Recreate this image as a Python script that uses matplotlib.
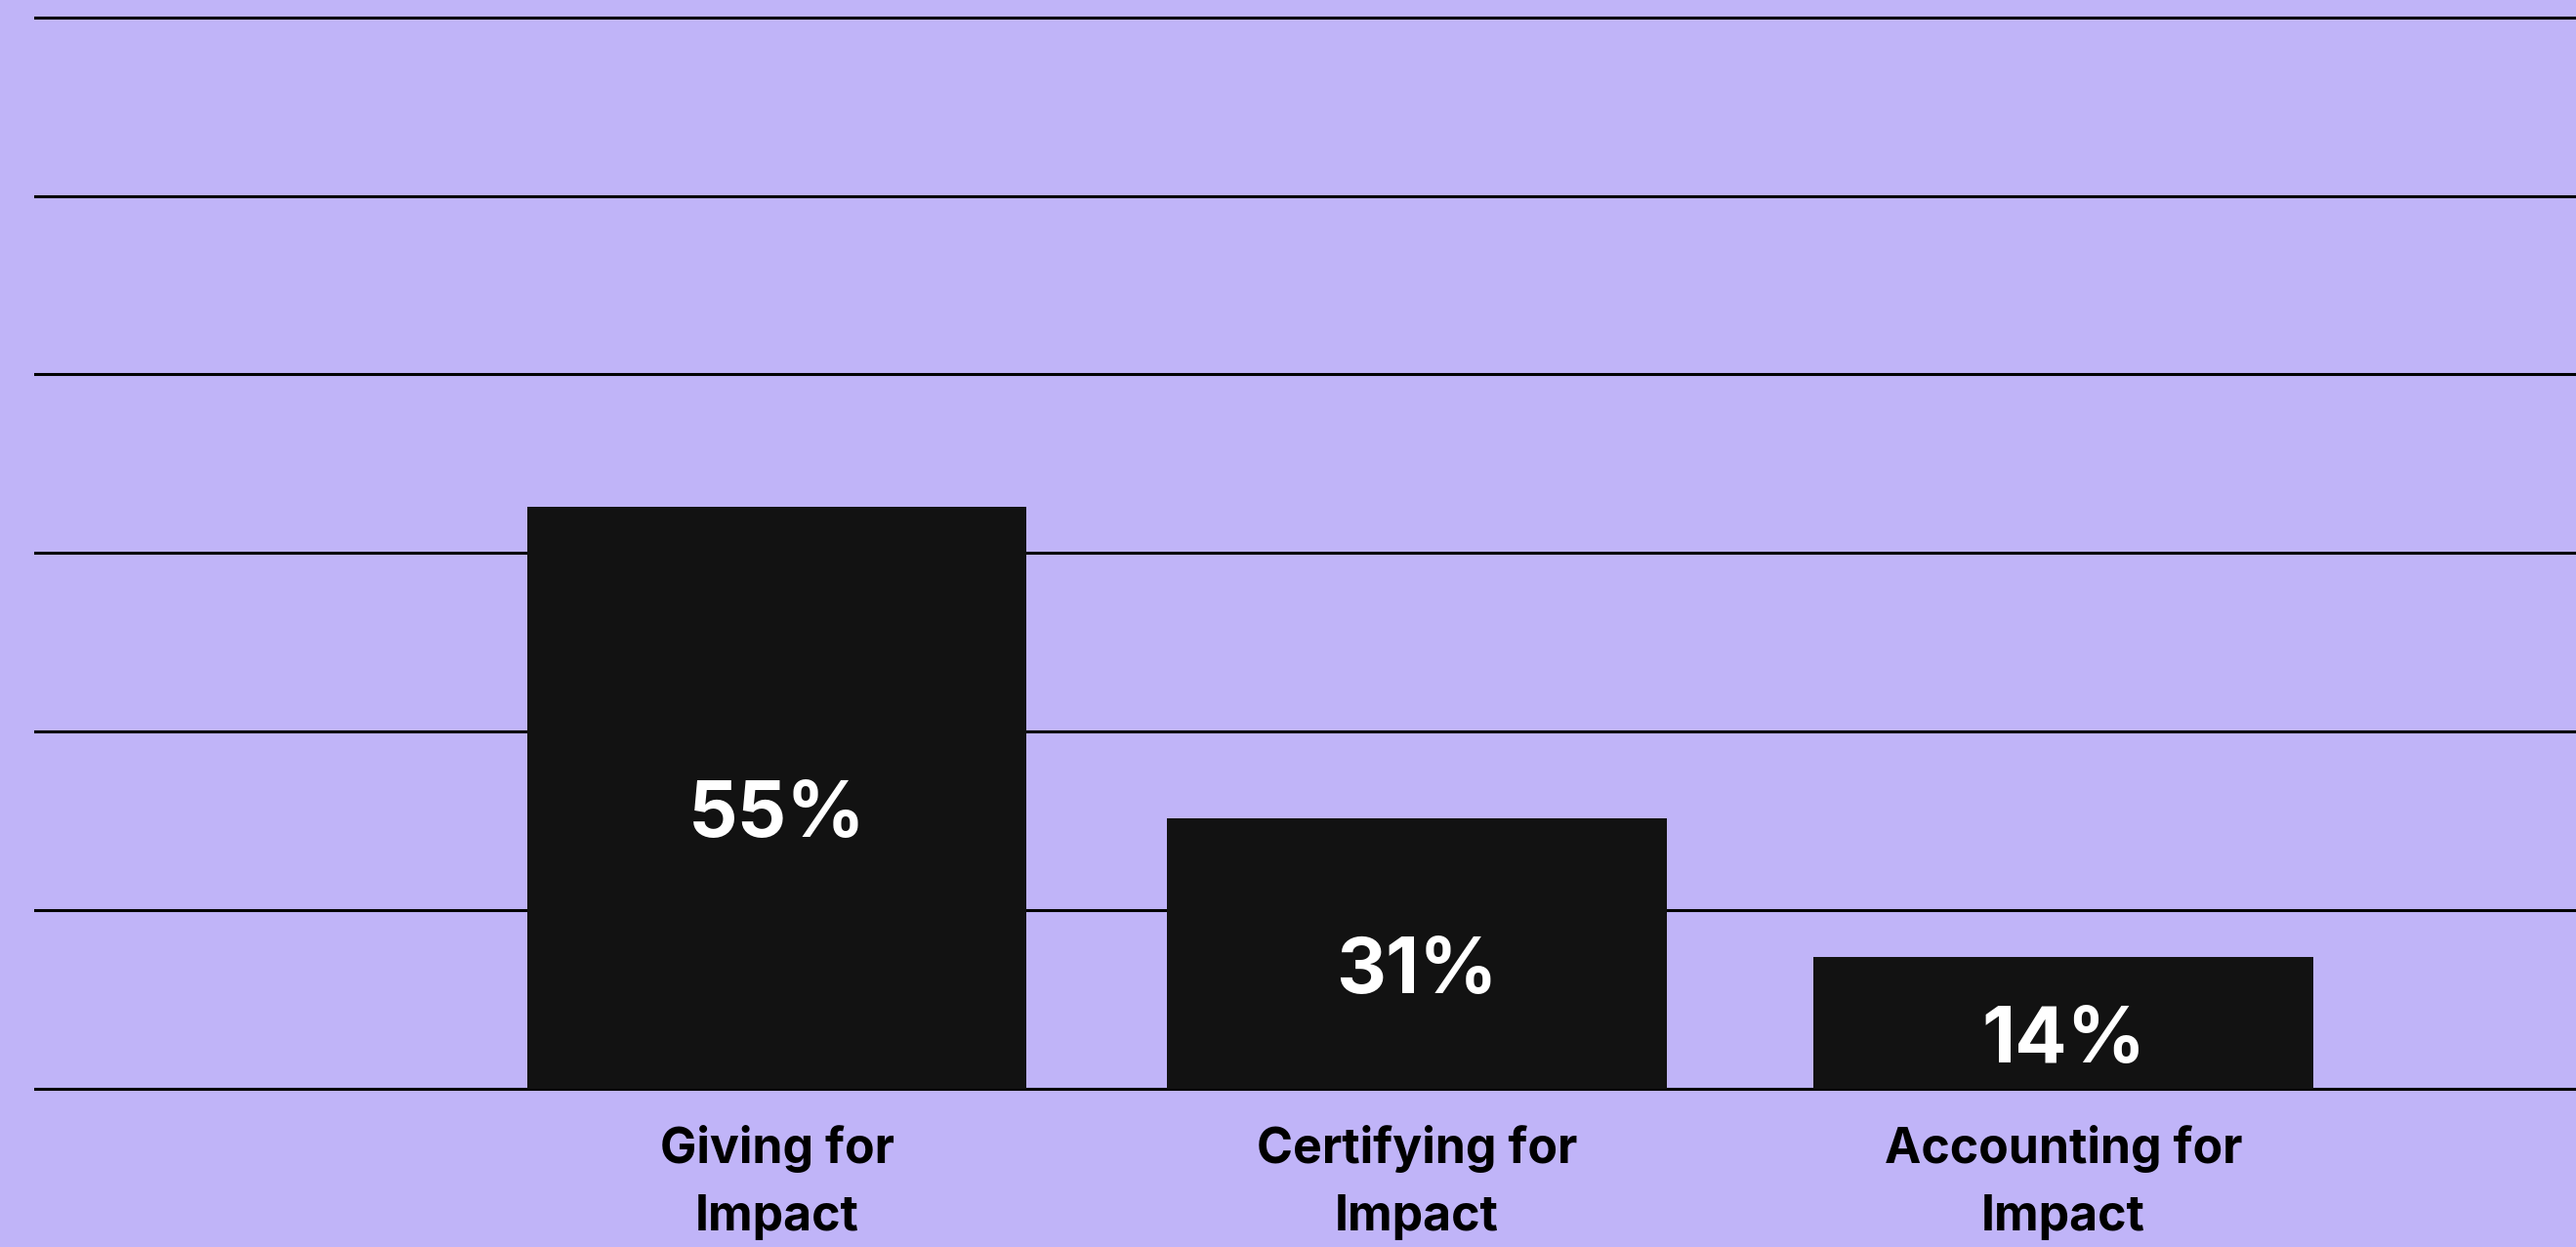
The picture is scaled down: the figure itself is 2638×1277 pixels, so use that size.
import matplotlib.pyplot as plt
import numpy as np

#===== DATA =======================================#
categories = ['Giving for\nImpact', 'Certifying for\nImpact', 'Accounting for\nImpact']
bar_heights = [65.2, 30.3, 14.8]      # bar lengths as drawn (gridline every 20)
pct_labels = ['55%', '31%', '14%']    # values printed on the bars
grid_levels = [0, 20, 40, 60, 80, 100, 120]

#===== STYLE ======================================#
bg = '#C0B4F8'
bar_color = '#121212'
plt.rcParams['font.family'] = ['Inter', 'DejaVu Sans']

W, H = 2638, 1277
fig = plt.figure(figsize=(W / 100, H / 100), dpi=100, facecolor=bg)

# axes placed in pixel terms: gridlines from x=35 to right edge, baseline y=1115
px_per_unit = 182.9 / 20
y_lo, y_hi = -1.0, 121.9
ax_bottom_px = 1115 + (0 - y_lo) * px_per_unit
ax = fig.add_axes([35 / W, 1 - ax_bottom_px / H, 1 - 35 / W, (y_hi - y_lo) * px_per_unit / H])
ax.set_facecolor(bg)

x = np.array([0, 0.995, 2.0])
ax.bar(x, bar_heights, width=0.777, color=bar_color, zorder=2)

for lvl in grid_levels:
    ax.axhline(lvl, color='black', lw=2.2, zorder=1)

for xi, h, lab in zip(x, bar_heights, pct_labels):
    ax.annotate(lab, (xi, h / 2), xytext=(0, -14), textcoords='offset points',
                ha='center', va='center', color='white', fontsize=57, fontweight='bold')

ax.set_xlim(-1.1545, 2.797)
ax.set_ylim(y_lo, y_hi)
ax.set_xticks(x)
ax.set_xticklabels(categories, fontsize=36, fontweight='bold', linespacing=1.6)
ax.tick_params(axis='x', length=0, pad=20)
ax.set_yticks([])
for s in ax.spines.values():
    s.set_visible(False)

fig.savefig('out.png', dpi=100, facecolor=bg)
